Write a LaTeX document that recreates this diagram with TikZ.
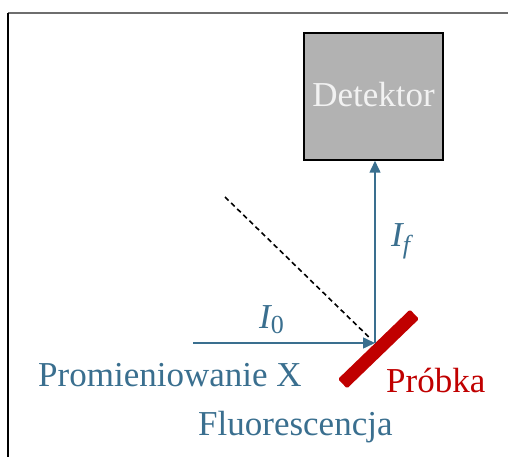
\documentclass[tikz,border=0pt]{standalone}
\usepackage{fontspec}
\setmainfont{Liberation Serif}
\usetikzlibrary{arrows.meta}
\definecolor{beam}{HTML}{3A6F8F}
\definecolor{sample}{HTML}{C00000}
\definecolor{detfill}{HTML}{B2B2B2}
\definecolor{framegray}{HTML}{6E6E6E}
\tikzset{
  big/.style={font=\fontsize{35}{40}\selectfont, inner sep=0pt},
  beamline/.style={draw=beam, line width=1.5pt},
  beamarrow/.style={beamline, -{Triangle[length=12pt,width=11pt]}},
  lbl/.style={big, text=beam, anchor=base west},
}
\begin{document}
\begin{tikzpicture}[x=1pt,y=-1pt]
\useasboundingbox (0,0) rectangle (508,457);
% frame
\draw[framegray, line width=1.5pt] (8,13) -- (508,13);
\draw[black, line width=1.5pt] (8,13) -- (8,457);
% detector
\node[draw=black, line width=1.5pt, fill=detfill, minimum width=139pt, minimum height=127pt, inner sep=0pt] (det) at (373.5,96.5) {};
\node[big, text=white!95!black, anchor=base] (dettxt) at (373.5,107) {Detektor};
% sample
\node[fill=sample, minimum width=100pt, minimum height=13pt, inner sep=0pt, rounded corners=1.5pt, rotate=44] (smp) at (378.5,349) {};
% beams
\coordinate (hit) at (375,343);
\coordinate (src) at (193,343);
\coordinate (dstart) at (225,197);
\draw[beamarrow] (src) -- (hit);
\draw[beamarrow] (hit) -- (hit |- det.south);
\draw[black, line width=1.6pt, dash pattern=on 5pt off 3.5pt, shorten >=8pt] (dstart) -- (hit);
% labels
\node[lbl] (i0) at (259,328) {\itshape I\raisebox{-5pt}{\upshape\fontsize{26}{26}\selectfont 0}};
\node[lbl] (if) at (391,246) {\itshape I\raisebox{-7pt}{\fontsize{26}{26}\selectfont f}};
\node[lbl] (prom) at (38,386) {Promieniowanie X};
\node[lbl] (fluo) at (198,435) {Fluorescencja};
\node[big, text=sample, anchor=base west] (prob) at (386,392) {Próbka};
\end{tikzpicture}
\end{document}
